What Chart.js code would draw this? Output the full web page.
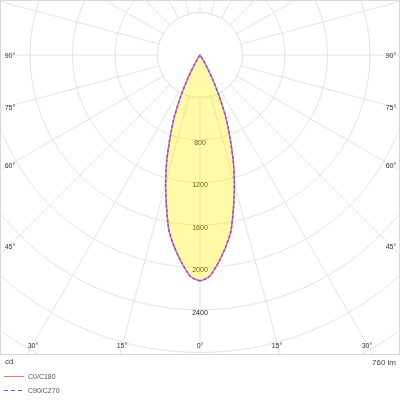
<!DOCTYPE html>
<html><head><meta charset="utf-8">
<script src="https://cdn.jsdelivr.net/npm/chart.js@4.4.1/dist/chart.umd.min.js"></script>
<style>
html,body{margin:0;padding:0;background:#fff;}
body{width:400px;height:400px;position:relative;overflow:hidden;font-family:"Liberation Sans",Arial,sans-serif;color:#333;}
#box{position:absolute;left:0;top:0;width:398px;height:353px;border:1px solid #d8d8d8;overflow:hidden;}
#c{position:absolute;left:0;top:0;}
.lab{position:absolute;font-size:7px;line-height:7px;transform:translate(-50%,-50%);white-space:nowrap;color:#333;}
.txt{position:absolute;font-size:8px;line-height:8px;white-space:nowrap;color:#444;}
.leg{position:absolute;font-size:7px;line-height:7px;white-space:nowrap;color:#555;}
</style></head><body>
<div id="box"><canvas id="c" width="850" height="850"></canvas></div>
<div id="labels"></div>
<div class="txt" id="unit" style="left:5px;top:358px"></div>
<div class="txt" id="flux" style="right:4px;top:359px"></div>
<svg style="position:absolute;left:0;top:370px" width="30" height="26">
  <line id="l1" x1="4" y1="6.5" x2="24" y2="6.5" stroke-width="1"/>
  <line id="l2" x1="4" y1="20.5" x2="24" y2="20.5" stroke-width="1" stroke-dasharray="4,3"/>
</svg>
<div class="leg" id="t1" style="left:28px;top:373px"></div>
<div class="leg" id="t2" style="left:28px;top:387px"></div>
<script>
// ---- data ----
// gamma angles (degrees from nadir), 0..180 in 2.5° steps
const gammaAngles = [];
for (let g = 0; g <= 180; g += 2.5) gammaAngles.push(g);
// luminous intensity (cd), per gamma angle
const c0c180 = [2125,2085,1965,1830,1680,1460,1250,1040,820,635,430,250,120,30,
  0,0,0,0,0,0,0,0,0,0,0,0,0,0,0,0,0,0,0,0,0,0,0,0,0,0,0,0,0,0,0,0,0,0,0,0,0,0,0,0,0,0,0,0,0,0,0,0,0,0,0,0,0,0,0,0,0,0,0];
const c90c270 = [2125,2085,1965,1830,1680,1460,1250,1040,820,635,430,250,120,30,
  0,0,0,0,0,0,0,0,0,0,0,0,0,0,0,0,0,0,0,0,0,0,0,0,0,0,0,0,0,0,0,0,0,0,0,0,0,0,0,0,0,0,0,0,0,0,0,0,0,0,0,0,0,0,0,0,0,0,0];
const seriesNames = ['C0/C180', 'C90/C270'];
const seriesColors = ['rgb(255,110,110)', 'rgb(105,90,255)'];
const tickLabels = [800, 1200, 1600, 2000, 2400];
const innerCircle = 400;
const scaleMax = 4000;
const scaleStep = 400;
const edgeLabelsLeft = ['90°', '75°', '60°', '45°'];
const edgeLabelsBottom = ['30°', '15°', '0°', '15°', '30°'];
const unitText = 'cd';
const fluxText = '760 lm';

// full circle: one half plane and its mirror (other C-plane)
const N = (gammaAngles.length - 1) * 2;
function ring(half) {
  const out = [];
  for (let i = 0; i < N; i++) out.push(half[i <= N / 2 ? i : N - i]);
  return out;
}
const ringLabels = ring(gammaAngles).map(String);
const stepPer15 = 15 / (gammaAngles[1] - gammaAngles[0]);

const gridColor = '#e3e3e3';
const innerPlugin = {
  id: 'inner',
  beforeDatasetsDraw(chart) {
    const s = chart.scales.r, ctx = chart.ctx;
    const r0 = s.getDistanceFromCenterForValue(innerCircle);
    ctx.save();
    ctx.beginPath();
    ctx.arc(s.xCenter, s.yCenter, r0, 0, Math.PI * 2);
    ctx.fillStyle = '#fff';
    ctx.fill();
    ctx.strokeStyle = gridColor;
    ctx.lineWidth = 1;
    ctx.stroke();
    ctx.font = '7px "Liberation Sans", Arial, sans-serif';
    ctx.fillStyle = '#1a1a1a';
    ctx.textAlign = 'center';
    ctx.textBaseline = 'middle';
    tickLabels.forEach(v => {
      const r = s.getDistanceFromCenterForValue(v);
      ctx.fillText(String(v), s.xCenter, s.yCenter + r + 3);
    });
    ctx.restore();
  }
};

const cv = document.getElementById('c');
const chart = new Chart(cv, {
  type: 'radar',
  data: {
    labels: ringLabels,
    datasets: [
      { label: seriesNames[0], data: ring(c0c180), borderColor: seriesColors[0], borderWidth: 1.5,
        backgroundColor: 'rgba(255,238,0,0.34)', fill: true, pointRadius: 0, tension: 0.2, order: 2 },
      { label: seriesNames[1], data: ring(c90c270), borderColor: seriesColors[1], borderWidth: 1.5,
        borderDash: [3, 2], fill: false, pointRadius: 0, tension: 0.2, order: 1 }
    ]
  },
  options: {
    responsive: false,
    animation: false,
    layout: { padding: 0 },
    plugins: { legend: { display: false }, tooltip: { enabled: false } },
    scales: {
      r: {
        min: 0, max: scaleMax, startAngle: 180,
        ticks: { display: false, stepSize: scaleStep },
        pointLabels: { display: false },
        grid: { circular: true, color: gridColor, lineWidth: 1 },
        angleLines: { display: true, color: gridColor,
          lineWidth: ctx => (ctx.index % stepPer15 === 0 ? 1 : 0) }
      }
    }
  },
  plugins: [innerPlugin]
});
const s = chart.scales.r;
cv.style.left = (199 - s.xCenter) + 'px';
cv.style.top = (54 - s.yCenter) + 'px';

// edge labels
const labDiv = document.getElementById('labels');
function addLab(t, x, y) {
  const d = document.createElement('div');
  d.className = 'lab'; d.textContent = t;
  d.style.left = x + 'px'; d.style.top = y + 'px';
  labDiv.appendChild(d);
}
const sideY = [55, 107, 165, 246];
edgeLabelsLeft.forEach((t, i) => { addLab(t, 10, sideY[i]); addLab(t, 391, sideY[i]); });
const botX = [33, 122, 200, 277, 367];
edgeLabelsBottom.forEach((t, i) => addLab(t, botX[i], 345));
document.getElementById('unit').textContent = unitText;
document.getElementById('flux').textContent = fluxText;
document.getElementById('t1').textContent = seriesNames[0];
document.getElementById('t2').textContent = seriesNames[1];
document.getElementById('l1').setAttribute('stroke', seriesColors[0]);
document.getElementById('l2').setAttribute('stroke', seriesColors[1]);
</script>
</body></html>
